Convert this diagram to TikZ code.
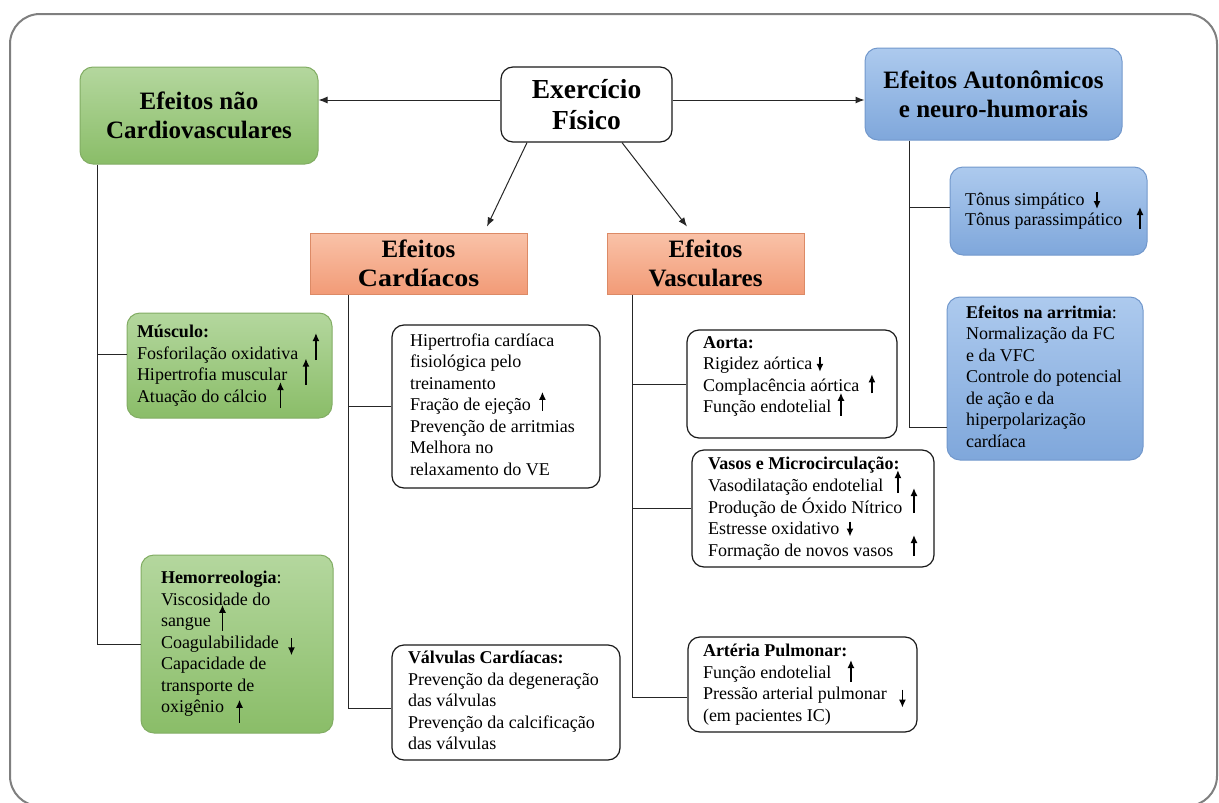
\documentclass[tikz,border=0pt]{standalone}
\usepackage{fontspec}
\usepackage{graphicx}
\setmainfont{Liberation Serif}
\usetikzlibrary{arrows.meta,calc}
\definecolor{gtop}{HTML}{B4D79E}
\definecolor{gbot}{HTML}{8ABD68}
\definecolor{gdraw}{HTML}{82AD64}
\definecolor{btop}{HTML}{ADCAEE}
\definecolor{bbot}{HTML}{7FA7DB}
\definecolor{bdraw}{HTML}{7298CC}
\definecolor{stop}{HTML}{F9C2A8}
\definecolor{sbot}{HTML}{F29B77}
\definecolor{sdraw}{HTML}{DC8A66}
\definecolor{framec}{HTML}{7F7F7F}
\newcommand\vart[3]{\hspace*{#1}\smash{\rlap{\tikz[baseline=0pt]\draw[-{Latex[length=8pt,width=7pt]},line width=1.4pt] (0pt,#2) -- (0pt,#3);}}}
\newcommand\lines[2]{\makebox[#1][l]{\begin{tabular}{@{}l@{}}#2\end{tabular}}}
\tikzset{
  frame/.style={draw=framec, line width=2pt, rounded corners=30pt},
  conn/.style={draw=black!85, line width=1pt},
  arr/.style={conn, -{Latex[length=9pt,width=7pt]}},
  whbox/.style={draw=black!90, line width=1.2pt, fill=white, rounded corners=12pt, inner sep=0pt},
  gbox/.style={draw=gdraw, line width=1pt, top color=gtop, bottom color=gbot, rounded corners=13pt},
  bbox/.style={draw=bdraw, line width=1pt, top color=btop, bottom color=bbot, rounded corners=13pt},
  sbox/.style={draw=sdraw, line width=1pt, top color=stop, bottom color=sbot, inner sep=0pt},
  ttl/.style={font=\bfseries\fontsize{25}{29}\selectfont, align=center},
  body/.style={font=\fontsize{18}{21.5}\selectfont, inner ysep=0pt},
}
\begin{document}
\begin{tikzpicture}[x=1pt, y=-1pt]
\useasboundingbox (0,0) rectangle (1219,803);
\clip (0,0) rectangle (1219,803);
\draw[frame] (10,14) rectangle (1217,806);

% header nodes
\node[whbox, ttl, font=\bfseries\fontsize{27.5}{31}\selectfont, minimum width=171pt, minimum height=75pt] (ex) at (586.5,104.5) {Exercício\\Físico};
\node[gbox, ttl, minimum width=238pt, minimum height=97pt] (nc) at (199,115.5) {Efeitos não\\Cardiovasculares};
\node[bbox, ttl, minimum width=257pt, minimum height=92pt] (au) at (993.5,94) {Efeitos Autonômicos\\e neuro-humorais};
\node[sbox, ttl, minimum width=217pt, minimum height=61pt] (ca) at (418.5,263.5) {Efeitos\\\scalebox{1.12}[1]{Cardíacos}};
\node[sbox, ttl, minimum width=197pt, minimum height=61pt] (va) at (705.5,263.5) {Efeitos\\Vasculares};

% content nodes
\node[bbox, body, font=\fontsize{18}{20}\selectfont, inner xsep=15pt, minimum width=197pt, minimum height=88pt] (ton) at (1048.5,211)
  {\lines{167pt}{Tônus simpático\vart{9pt}{13pt}{-4pt}\\Tônus parassimpático\vart{14pt}{-4pt}{18pt}}};
\node[bbox, body, inner xsep=19pt, minimum width=196pt, minimum height=163pt] (arrit) at (1045,378.5)
  {\lines{158pt}{\textbf{Efeitos na arritmia}:\\Normalização da FC\\e da VFC\\Controle do potencial\\de ação e da\\hiperpolarização\\cardíaca}};
\node[gbox, body, inner xsep=10pt, minimum width=205pt, minimum height=105pt] (mus) at (229.5,365.5)
  {\lines{185pt}{\textbf{Músculo:}\\Fosforilação oxidativa\vart{14pt}{-1pt}{26pt}\\Hipertrofia muscular\vart{15pt}{-4pt}{22pt}\\Atuação do cálcio\vart{10pt}{-6pt}{20pt}}};
\node[gbox, body, inner xsep=20pt, minimum width=192pt, minimum height=178pt] (hem) at (237,644)
  {\lines{152pt}{\textbf{Hemorreologia}:\\Viscosidade do\\sangue\vart{8pt}{-4pt}{22pt}\\Coagulabilidade\vart{9pt}{10pt}{-7pt}\\Capacidade de\\transporte de\\oxigênio\vart{12pt}{-10pt}{13pt}}};
\node[whbox, body, inner xsep=18pt, minimum width=208pt, minimum height=163pt] (hip) at (496,406.5)
  {\lines{172pt}{Hipertrofia cardíaca\\fisiológica pelo\\treinamento\\Fração de ejeção\vart{8pt}{0pt}{19pt}\\Prevenção de arritmias\\Melhora no\\relaxamento do VE}};
\node[whbox, body, inner xsep=16pt, minimum width=228pt, minimum height=115pt] (val) at (506,702.5)
  {\lines{196pt}{\textbf{Válvulas Cardíacas:}\\Prevenção da degeneração\\das válvulas\\Prevenção da calcificação\\das válvulas}};
\node[whbox, body, inner xsep=16pt, minimum width=210pt, minimum height=108pt] (aor) at (792,384)
  {\lines{178pt}{\textbf{Aorta:}\\Rigidez aórtica\vart{4pt}{13pt}{-2pt}\\Complacência aórtica\vart{9pt}{-2pt}{17pt}\\Função endotelial\vart{6pt}{-3pt}{20pt}\\[-6pt]\mbox{}}};
\node[whbox, body, inner xsep=16pt, minimum width=242pt, minimum height=117pt] (vas) at (813,508.5)
  {\lines{210pt}{\textbf{Vasos e Microcirculação:}\\Vasodilatação endotelial\vart{11pt}{-2pt}{21pt}\\Produção de Óxido Nítrico\vart{8pt}{0pt}{25pt}\\Estresse oxidativo\vart{7pt}{13pt}{-2pt}\\Formação de novos vasos\vart{17pt}{0pt}{21pt}}};
\node[whbox, body, inner xsep=15pt, minimum width=229pt, minimum height=95pt] (pul) at (802.5,684.5)
  {\lines{199pt}{\textbf{Artéria Pulmonar:}\\Função endotelial\vart{16pt}{-4pt}{18pt}\\Pressão arterial pulmonar\vart{12pt}{10pt}{-8pt}\\(em pacientes IC)}};

% top connectors
\coordinate (e1) at ([yshift=4.5pt]ex.west);
\coordinate (e2) at ([yshift=4.5pt]ex.east);
\draw[arr] (e1) -- (e1 -| nc.east);
\draw[arr] (e2) -- (e2 -| au.west);
\draw[arr] ([xshift=-59.5pt]ex.south) -- ([xshift=68.5pt,yshift=6pt]ca.north);
\draw[arr] ([xshift=35.5pt]ex.south) -- ([xshift=-18.5pt,yshift=6pt]va.north);

% left tree
\coordinate (t1) at ([xshift=-102pt]nc.south);
\coordinate (m1) at ([yshift=11pt]mus.west);
\draw[conn] (t1) |- (hem.west);
\draw[conn] (m1) -- (m1 -| t1);

% cardiac tree
\coordinate (t2) at ([xshift=-70.5pt]ca.south);
\coordinate (v1) at ([yshift=-5.5pt]val.west);
\draw[conn] (t2) |- (v1);
\draw[conn] (hip.west) -- (hip.west -| t2);

% vascular tree
\coordinate (t3) at ([xshift=-73.5pt]va.south);
\coordinate (p1) at ([yshift=-13pt]pul.west);
\draw[conn] (t3) |- (p1);
\draw[conn] (aor.west) -- (aor.west -| t3);
\draw[conn] (vas.west) -- (vas.west -| t3);

% autonomic tree
\coordinate (t4) at ([xshift=-84.5pt]au.south);
\coordinate (r1) at ([yshift=-48.5pt]arrit.west);
\coordinate (s1) at ([yshift=4pt]ton.west);
\draw[conn] (t4) |- (r1);
\draw[conn] (s1) -- (s1 -| t4);
\end{tikzpicture}
\end{document}
